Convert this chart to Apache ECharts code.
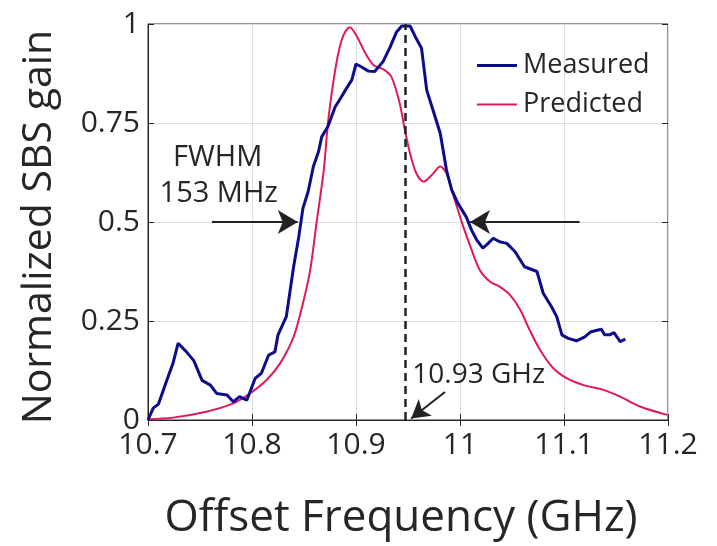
<!DOCTYPE html>
<html>
<head>
<meta charset="utf-8">
<script src="https://cdn.jsdelivr.net/npm/echarts@6/dist/echarts.min.js"></script>
<style>html,body{margin:0;padding:0;background:#fff}#c{width:717px;height:546px}</style>
</head>
<body>
<div id="c"></div>
<script>
const measuredX = [10.7,10.705,10.71,10.718,10.724,10.729,10.737,10.744,10.752,10.76,10.766,10.776,10.782,10.788,10.795,10.803,10.809,10.816,10.822,10.825,10.833,10.84,10.845,10.849,10.854,10.859,10.864,10.867,10.873,10.88,10.885,10.891,10.896,10.9,10.905,10.912,10.918,10.926,10.933,10.939,10.944,10.952,10.957,10.963,10.968,10.974,10.981,10.987,10.992,10.998,11.006,11.011,11.016,11.022,11.027,11.032,11.038,11.045,11.053,11.062,11.074,11.08,11.088,11.093,11.098,11.104,11.112,11.12,11.126,11.136,11.139,11.144,11.148,11.154,11.159];
const measuredY = [0,0.03,0.04,0.10,0.143,0.194,0.172,0.15,0.10,0.088,0.067,0.063,0.046,0.059,0.05,0.105,0.118,0.164,0.172,0.215,0.261,0.387,0.463,0.535,0.577,0.64,0.678,0.715,0.741,0.791,0.812,0.838,0.859,0.899,0.892,0.881,0.88,0.905,0.943,0.98,0.995,0.995,0.968,0.939,0.833,0.783,0.724,0.631,0.581,0.547,0.513,0.48,0.455,0.434,0.446,0.459,0.45,0.446,0.425,0.387,0.375,0.32,0.286,0.261,0.215,0.206,0.2,0.21,0.223,0.229,0.215,0.215,0.221,0.198,0.204];
const predictedX = [10.7,10.724,10.756,10.782,10.798,10.814,10.827,10.84,10.849,10.856,10.862,10.869,10.873,10.878,10.883,10.888,10.894,10.901,10.909,10.917,10.926,10.934,10.942,10.947,10.952,10.958,10.965,10.973,10.981,10.987,10.994,11.002,11.01,11.019,11.029,11.038,11.048,11.058,11.067,11.077,11.09,11.103,11.119,11.138,11.154,11.173,11.199];
const predictedY = [0.002,0.006,0.021,0.042,0.067,0.101,0.143,0.21,0.295,0.379,0.497,0.631,0.749,0.85,0.926,0.972,0.992,0.968,0.926,0.896,0.886,0.867,0.8,0.732,0.673,0.623,0.602,0.619,0.64,0.623,0.564,0.497,0.438,0.379,0.349,0.337,0.316,0.278,0.227,0.177,0.13,0.105,0.088,0.076,0.059,0.034,0.013];
const xTickLabels = ['10.7','10.8','10.9','11','11.1','11.2'];
const yTickLabels = ['0','0.25','0.5','0.75','1'];
const peakFreq = 10.947;
const peakLabel = '10.93 GHz';
const fwhmLevel = 0.5;
const fwhmLeftX = [10.7615, 10.844];
const fwhmRightX = [11.115, 11.0096];
const fwhmText = ['FWHM', '153 MHz'];

const FONT = 'Open Sans';
const TXT = '#262626';
const BLUE = '#0c0c8c';
const RED = '#e0185e';
const chart = echarts.init(document.getElementById('c'));
const xIdx = v => Math.round((v - 10.7) / 0.1);
const yIdx = v => Math.round(v / 0.25);
const commonX = {type:'value', min:10.7, max:11.2, interval:0.1};
const commonY = {type:'value', min:0, max:1, interval:0.25};
chart.setOption({
  animation:false,
  backgroundColor:'#fff',
  grid:{left:148, right:49, top:24, bottom:126, show:true, borderColor:'#262626', borderWidth:1},
  legend:{
    left:472, top:47, orient:'vertical', itemWidth:40, itemHeight:3, itemGap:12,
    textStyle:{fontFamily:FONT, fontSize:27, color:TXT, padding:[0,0,0,1]},
    data:[
      {name:'Measured', icon:'path://M0,0H40V3H0Z', itemStyle:{color:BLUE}},
      {name:'Predicted', icon:'path://M0,0.5H40V2.5H0Z M0,0H0.001V3H0Z', itemStyle:{color:RED}}
    ]
  },
  xAxis:[
    Object.assign({}, commonX, {
      position:'bottom',
      name:'Offset Frequency (GHz)', nameLocation:'middle', nameGap:76,
      nameTextStyle:{fontFamily:FONT, fontSize:44, color:TXT, padding:[0,14,0,0]},
      axisLine:{show:true, lineStyle:{color:'#262626', width:1}},
      axisTick:{show:true, inside:true, length:6, lineStyle:{color:'#262626'}},
      axisLabel:{fontFamily:FONT, fontSize:30, color:TXT, margin:10, formatter:v=>xTickLabels[xIdx(v)]},
      splitLine:{show:true, lineStyle:{color:'#dedede', width:1}}
    }),
    Object.assign({}, commonX, {
      position:'top',
      axisLine:{show:false}, axisLabel:{show:false}, splitLine:{show:false},
      axisTick:{show:true, inside:true, length:6, lineStyle:{color:'#262626'}}
    })
  ],
  yAxis:[
    Object.assign({}, commonY, {
      position:'left',
      name:'Normalized SBS gain', nameLocation:'middle', nameGap:88,
      nameTextStyle:{fontFamily:FONT, fontSize:41, color:TXT, padding:[0,10,0,0]},
      axisLine:{show:true, lineStyle:{color:'#262626', width:1}},
      axisTick:{show:true, inside:true, length:6, lineStyle:{color:'#262626'}},
      axisLabel:{fontFamily:FONT, fontSize:30, color:TXT, margin:8, formatter:v=>yTickLabels[yIdx(v)]},
      splitLine:{show:true, lineStyle:{color:'#dedede', width:1}}
    }),
    Object.assign({}, commonY, {
      position:'right',
      axisLine:{show:false}, axisLabel:{show:false}, splitLine:{show:false},
      axisTick:{show:true, inside:true, length:6, lineStyle:{color:'#262626'}}
    })
  ],
  series:[
    {
      name:'Predicted', type:'line', symbol:'none', smooth:0.3,
      data: predictedX.map((x,i)=>[x, predictedY[i]]),
      lineStyle:{color:RED, width:2}, itemStyle:{color:RED}, z:3
    },
    {
      name:'Measured', type:'line', symbol:'none',
      data: measuredX.map((x,i)=>[x, measuredY[i]]),
      lineStyle:{color:BLUE, width:3}, itemStyle:{color:BLUE}, z:4,
      markLine:{
        silent:true, animation:false, symbol:['none','none'],
        label:{show:false},
        data:[
          [{coord:[peakFreq,0], lineStyle:{color:'#222', width:2.5, type:[8,5]}},{coord:[peakFreq,1]}],
          [{coord:[fwhmLeftX[0],fwhmLevel], symbol:'none', lineStyle:{color:'#222', width:2, type:'solid'}},{coord:[fwhmLeftX[1],fwhmLevel], symbol:'arrow', symbolSize:[18,20]}],
          [{coord:[fwhmRightX[0],fwhmLevel], symbol:'none', lineStyle:{color:'#222', width:2, type:'solid'}},{coord:[fwhmRightX[1],fwhmLevel], symbol:'arrow', symbolSize:[18,20]}],
          [{coord:[10.9856,0.0707], symbol:'none', lineStyle:{color:'#222', width:2, type:'solid'}},{coord:[10.953,0.004], symbol:'arrow', symbolSize:[16,18]}]
        ]
      },
      markPoint:{
        silent:true, symbol:'circle', symbolSize:0,
        label:{show:true, fontFamily:FONT, fontSize:29, color:TXT, position:'inside'},
        data:[
          {coord:[10.767,0.662], label:{formatter:fwhmText[0]}},
          {coord:[10.768,0.571], label:{formatter:fwhmText[1]}},
          {coord:[11.018,0.114], label:{formatter:peakLabel, fontSize:28}}
        ]
      }
    }
  ]
});
</script>
</body>
</html>
